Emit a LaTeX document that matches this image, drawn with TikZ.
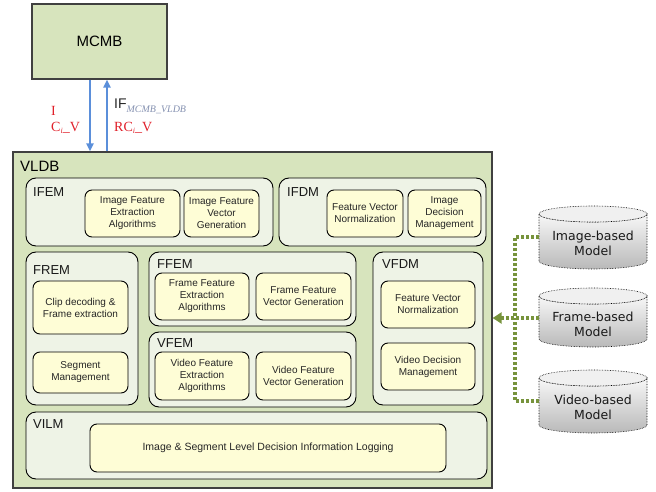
\documentclass[tikz,border=0pt]{standalone}
\usepackage{fontspec}
\setmainfont{Liberation Sans}
\newfontfamily\serifx{Liberation Serif}
\newfontfamily\cylfont{DejaVu Sans}
\usetikzlibrary{arrows.meta,calc}
\definecolor{vgreen}{HTML}{D7E4BD}
\definecolor{modfill}{HTML}{EEF3E6}
\definecolor{boxfill}{HTML}{FEFDD6}
\definecolor{arrblue}{HTML}{5B8FDA}
\definecolor{olive}{HTML}{77933C}
\definecolor{lblred}{HTML}{E0202A}
\definecolor{subgray}{HTML}{8490B0}
\newcommand\mycyl[3]{%
  \path[top color=gray!6, bottom color=gray!55, draw=black, densely dotted, line width=0.6pt]
    (#1-54,#2+8) -- (#1-54,#3-8) arc[start angle=180,end angle=0,x radius=54,y radius=8]
    -- (#1+54,#2+8) arc[start angle=0,end angle=180,x radius=54,y radius=8] -- cycle;
  \path[fill=gray!12, draw=black, densely dotted, line width=0.6pt] (#1,#2+8) ellipse[x radius=54,y radius=8];
}
\begin{document}
\begin{tikzpicture}[x=1pt,y=-1pt,
  big/.style={draw=black!75, fill=vgreen, line width=1.2pt, inner sep=0pt},
  modbox/.style={draw=black, fill=modfill, rounded corners=10pt, line width=0.9pt, inner sep=0pt},
  ibox/.style={draw=black, fill=boxfill, rounded corners=7pt, line width=0.9pt, inner sep=0pt, align=center, text=black!85, font=\fontsize{10}{12}\selectfont},
  sz/.style 2 args={minimum width=#1pt, minimum height=#2pt},
  mlabel/.style={anchor=west, inner sep=0pt, text=black!90, font=\fontsize{13}{15}\selectfont},
  redlbl/.style={anchor=west, inner sep=0pt, text=lblred, font=\serifx\fontsize{14}{16}\selectfont},
  barrow/.style={draw=arrblue, line width=2.5pt, -{Triangle[length=8pt,width=7pt]}},
  dotc/.style={draw=olive, line width=3.5pt, dash pattern=on 3pt off 2pt},
  cylt/.style={align=center, inner sep=0pt, minimum width=108pt, font=\cylfont\fontsize{12.5}{15}\selectfont, text=black!90}]
\useasboundingbox (0,0) rectangle (656,492);

% MCMB and VLDB
\node[big, sz={135}{75}, font=\fontsize{15}{18}\selectfont] (mcmb) at (99.5,41.5) {MCMB};
\node[big, sz={479}{336}] (vldb) at (252.5,320) {};
\node[anchor=west, inner sep=0pt, font=\fontsize{15}{18}\selectfont] (vldbl) at (20,166) {VLDB};

% interface arrows
\coordinate (dx) at (90,0);
\coordinate (ux) at (107,0);
\draw[barrow] (mcmb.south -| dx) -- (vldb.north -| dx);
\draw[barrow] (vldb.north -| ux) -- (mcmb.south -| ux);
\node[redlbl] (lI) at (51,111) {I};
\node[redlbl] (lC) at (51,128) {C{\fontsize{8}{8}\selectfont\raisebox{-2pt}{\itshape i}}\_V};
\node[anchor=west, inner sep=0pt] (lIF) at (114,106) {{\fontsize{14}{16}\selectfont\color{black!85}IF}{\serifx\itshape\fontsize{10}{10}\selectfont\color{subgray}\raisebox{-4pt}{MCMB\_VLDB}}};
\node[redlbl] (lRC) at (114,128) {RC{\fontsize{8}{8}\selectfont\raisebox{-2pt}{\itshape i}}\_V};

% IFEM
\node[modbox, sz={247}{68}] (ifem) at (149.5,212) {};
\node[mlabel] (ifeml) at (33,192) {IFEM};
\node[ibox, sz={95}{47}] (ifea) at (132.5,213.5) {Image Feature\\Extraction\\Algorithms};
\node[ibox, sz={75}{47}] (ifvg) at (221.5,213.5) {Image Feature\\Vector\\Generation};

% IFDM
\node[modbox, sz={207}{68}] (ifdm) at (382.5,212) {};
\node[mlabel] (ifdml) at (287,192) {IFDM};
\node[ibox, sz={76}{47}] (fvn1) at (365,213.5) {Feature Vector\\Normalization};
\node[ibox, sz={73}{47}] (idm) at (444.5,213.5) {Image\\Decision\\Management};

% FREM
\node[modbox, sz={112}{153}] (frem) at (82,328.5) {};
\node[mlabel] (freml) at (33,270) {FREM};
\node[ibox, sz={95}{53}] (cdfe) at (80.5,307.5) {Clip decoding \&\\Frame extraction};
\node[ibox, sz={95}{41}] (sm) at (80.5,372.5) {Segment\\Management};

% FFEM
\node[modbox, sz={207}{74}] (ffem) at (252.5,289) {};
\node[mlabel] (ffeml) at (157,264) {FFEM};
\node[ibox, sz={94}{47}] (ffea) at (202,296.5) {Frame Feature\\Extraction\\Algorithms};
\node[ibox, sz={95}{47}] (ffvg) at (303.5,296.5) {Frame Feature\\Vector Generation};

% VFEM
\node[modbox, sz={207}{75}] (vfem) at (252.5,369.5) {};
\node[mlabel] (vfeml) at (157,343) {VFEM};
\node[ibox, sz={94}{48}] (vfea) at (202,376) {Video Feature\\Extraction\\Algorithms};
\node[ibox, sz={95}{48}] (vfvg) at (303.5,376) {Video Feature\\Vector Generation};

% VFDM
\node[modbox, sz={110}{153}] (vfdm) at (428,328.5) {};
\node[mlabel] (vfdml) at (382,264) {VFDM};
\node[ibox, sz={94}{47}] (fvn2) at (428,304.5) {Feature Vector\\Normalization};
\node[ibox, sz={94}{47}] (vdm) at (428,366.5) {Video Decision\\Management};

% VILM
\node[modbox, sz={461}{67}] (vilm) at (256.5,445.5) {};
\node[mlabel] (vilml) at (33,424) {VILM};
\node[ibox, sz={356}{48}, font=\fontsize{10.5}{12}\selectfont] (isl) at (268,448) {Image \& Segment Level Decision Information Logging};

% model cylinders
\mycyl{593}{206}{269}
\mycyl{593}{288}{347}
\mycyl{593}{370}{433}
\node[cylt] (icyl) at (593,243) {Image-based\\Model};
\node[cylt] (fcyl) at (593,324) {Frame-based\\Model};
\node[cylt] (vcyl) at (593,407) {Video-based\\Model};

% dotted connectors
\coordinate (jn) at (515,318);
\draw[dotc] ([yshift=6pt]icyl.west) -| (jn);
\draw[dotc] ([yshift=6pt]vcyl.west) -| (jn);
\draw[dotc, -{Triangle[length=9pt,width=11pt]}] (fcyl.west |- jn) -- (vldb.east |- jn);
\end{tikzpicture}
\end{document}
